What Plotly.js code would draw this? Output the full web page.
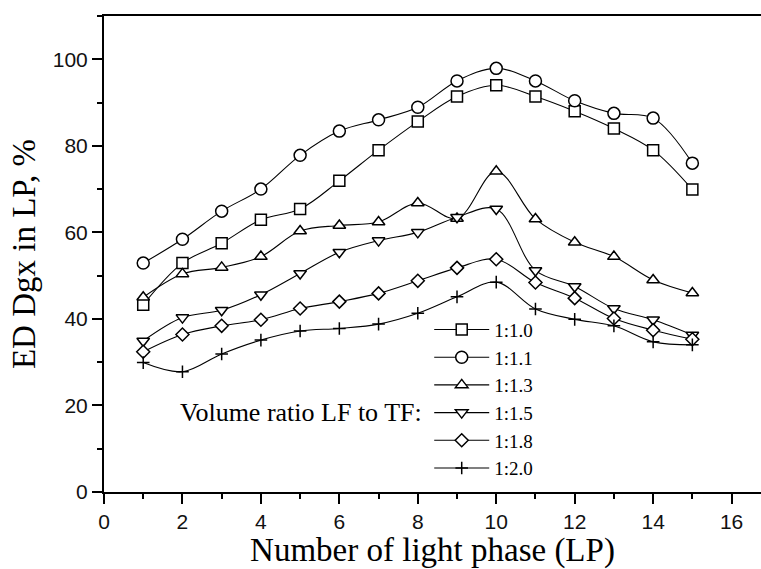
<!DOCTYPE html>
<html>
<head>
<meta charset="utf-8">
<script src="https://cdn.plot.ly/plotly-3.0.1.min.js"></script>
<style>html,body{margin:0;padding:0;background:#fff}#chart{width:761px;height:569px}</style>
</head>
<body>
<div id="chart"></div>
<script>
// Number of light phase (LP)
var lpPhase = [1, 2, 3, 4, 5, 6, 7, 8, 9, 10, 11, 12, 13, 14, 15];

// Series names (volume ratio LF to TF)
var seriesNames = ["1:1.0", "1:1.1", "1:1.3", "1:1.5", "1:1.8", "1:2.0"];

// ED Dgx in LP, %
var ratio_1_0 = [43.3, 52.9, 57.5, 62.9, 65.4, 71.9, 79.0, 85.6, 91.4, 94.0, 91.4, 88.0, 84.0, 79.0, 69.9];
var ratio_1_1 = [52.9, 58.4, 64.9, 70.0, 77.8, 83.4, 86.0, 88.9, 95.0, 97.9, 95.0, 90.4, 87.5, 86.4, 76.0];
var ratio_1_3 = [45.0, 50.4, 51.9, 54.4, 60.3, 61.6, 62.4, 66.8, 63.2, 74.1, 63.1, 57.7, 54.4, 49.0, 46.0];
var ratio_1_5 = [34.9, 40.3, 42.0, 45.6, 50.5, 55.4, 58.1, 60.0, 63.5, 65.4, 51.2, 47.5, 42.4, 39.8, 36.3];
var ratio_1_8 = [32.4, 36.4, 38.4, 39.8, 42.4, 44.0, 45.9, 48.8, 51.8, 53.8, 48.4, 44.8, 40.1, 37.4, 35.3];
var ratio_2_0 = [29.9, 27.8, 31.9, 35.1, 37.2, 37.8, 38.8, 41.3, 45.1, 48.5, 42.3, 39.9, 38.4, 34.7, 34.0];

var annotationText = "Volume ratio LF to TF:";

var seriesValues = [ratio_1_0, ratio_1_1, ratio_1_3, ratio_1_5, ratio_1_8, ratio_2_0];
var symbols = ["square", "circle", "triangle-up", "triangle-down", "diamond", "cross-thin"];
var sizes = [11, 12, 11, 11, 10, 9];

var traces = seriesValues.map(function (vals, i) {
  return {
    x: lpPhase,
    y: vals,
    name: seriesNames[i],
    type: "scatter",
    mode: "lines+markers",
    line: {color: "#000", width: 1.1, shape: "spline", smoothing: 1},
    marker: {symbol: symbols[i], size: sizes[i], color: "#fff",
             line: {color: "#000", width: 1.5}},
    cliponaxis: false
  };
});

var layout = {
  width: 761, height: 569,
  margin: {l: 104, r: 0, t: 16, b: 77, pad: 0},
  paper_bgcolor: "#fff", plot_bgcolor: "#fff",
  showlegend: true,
  legend: {
    x: 0.495, y: 0.381, xanchor: "left", yanchor: "top",
    bgcolor: "rgba(0,0,0,0)", borderwidth: 0,
    font: {family: "Liberation Serif, Times New Roman, serif", size: 19, color: "#000"},
    itemwidth: 55, tracegroupgap: 0
  },
  xaxis: {
    range: [0, 16.75], showgrid: false, zeroline: false,
    showline: true, linecolor: "#000", linewidth: 2, mirror: true,
    ticks: "outside", ticklen: 10, tickwidth: 2, tickcolor: "#000",
    tick0: 0, dtick: 2,
    minor: {ticks: "outside", ticklen: 5, tickwidth: 2, tickcolor: "#000", dtick: 1, tick0: 0},
    tickfont: {family: "Liberation Sans, Arial, sans-serif", size: 21, color: "#111"},
    title: {text: "Number of light phase (LP)", standoff: 12,
            font: {family: "Liberation Serif, Times New Roman, serif", size: 33, color: "#000"}}
  },
  yaxis: {
    range: [0, 110], showgrid: false, zeroline: false,
    showline: true, linecolor: "#000", linewidth: 2,
    ticks: "outside", ticklen: 10, tickwidth: 2, tickcolor: "#000",
    tick0: 0, dtick: 20,
    minor: {ticks: "outside", ticklen: 5, tickwidth: 2, tickcolor: "#000", dtick: 10, tick0: 0},
    tickfont: {family: "Liberation Sans, Arial, sans-serif", size: 21, color: "#111"},
    title: {text: "ED Dgx in LP, %", standoff: 7,
            font: {family: "Liberation Serif, Times New Roman, serif", size: 33, color: "#000"}}
  },
  annotations: [{
    text: annotationText, xref: "x", yref: "y", x: 8.15, y: 18.3,
    xanchor: "right", yanchor: "middle", showarrow: false,
    font: {family: "Liberation Serif, Times New Roman, serif", size: 26, color: "#000"}
  }]
};

Plotly.newPlot("chart", traces, layout, {displayModeBar: false, staticPlot: true});
</script>
</body>
</html>
